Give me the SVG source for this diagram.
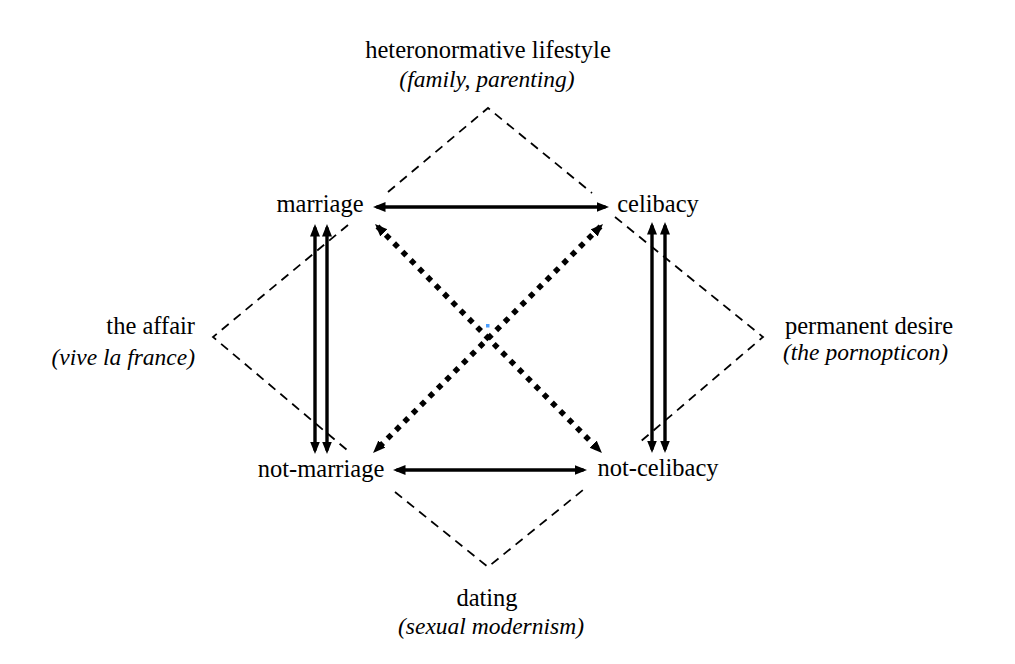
<svg xmlns="http://www.w3.org/2000/svg" width="1015" height="664" viewBox="0 0 1015 664">
<style>
  text { font-family: "Liberation Serif", "DejaVu Serif", serif; fill: #000; }
  .r { font-size: 24.5px; }
  .i { font-size: 23.5px; font-style: italic; }
  .dash { fill: none; stroke: #000; stroke-width: 1.8; stroke-dasharray: 9 6.5; }
  .solid { fill: none; stroke: #000; stroke-width: 3.4; marker-start: url(#ah); marker-end: url(#ah); }
  .dot { fill: none; stroke: #000; stroke-width: 5.5; stroke-dasharray: 5.5 6.3; marker-start: url(#ah); marker-end: url(#ah); }
</style>
<defs>
  <marker id="ah" markerUnits="userSpaceOnUse" markerWidth="14" markerHeight="11" refX="9" refY="5" orient="auto-start-reverse">
    <path d="M0,0 L12.5,5 L0,10 z" fill="#000"/>
  </marker>
</defs>
<rect width="1015" height="664" fill="#fff"/>

<g id="connectors">
  <polyline class="dash" points="388,192 488,108 592,193"/>
  <polyline class="dash" points="348,225 213,337 347,450"/>
  <polyline class="dash" points="395,492 488,567 583,490"/>
  <polyline class="dash" points="615,217 763,337 640,442"/>
  <line class="solid" x1="376.5" y1="207" x2="605.5" y2="207"/>
  <line class="solid" x1="396.5" y1="470" x2="583.5" y2="470"/>
  <line class="solid" x1="315" y1="227.5" x2="315" y2="450.5"/>
  <line class="solid" x1="327" y1="227.5" x2="327" y2="450.5"/>
  <line class="solid" x1="652" y1="225.5" x2="652" y2="449.5"/>
  <line class="solid" x1="665" y1="225.5" x2="665" y2="449.5"/>
  <line class="dot" x1="377.5" y1="226.5" x2="599.5" y2="450.5"/>
  <line class="dot" x1="600.5" y1="226.5" x2="375.5" y2="450.5"/>
</g>

<rect x="486" y="324" width="3.5" height="3.5" fill="#4a9eff"/>

<g id="heteronormative">
  <text class="r" x="488" y="58" text-anchor="middle">heteronormative lifestyle</text>
  <text class="i" x="487" y="87" text-anchor="middle">(family, parenting)</text>
</g>
<g id="marriage">
  <text class="r" x="320" y="212" text-anchor="middle">marriage</text>
</g>
<g id="celibacy">
  <text class="r" x="658" y="212" text-anchor="middle">celibacy</text>
</g>
<g id="not-marriage">
  <text class="r" x="321" y="477" text-anchor="middle">not-marriage</text>
</g>
<g id="not-celibacy">
  <text class="r" x="658" y="476" text-anchor="middle">not-celibacy</text>
</g>
<g id="affair">
  <text class="r" x="195" y="334" text-anchor="end">the affair</text>
  <text class="i" x="195" y="365" text-anchor="end">(vive la france)</text>
</g>
<g id="permanent-desire">
  <text class="r" x="785" y="334" text-anchor="start">permanent desire</text>
  <text class="i" x="783" y="360" text-anchor="start">(the pornopticon)</text>
</g>
<g id="dating">
  <text class="r" x="487" y="606" text-anchor="middle">dating</text>
  <text class="i" x="491" y="634" text-anchor="middle">(sexual modernism)</text>
</g>
</svg>
